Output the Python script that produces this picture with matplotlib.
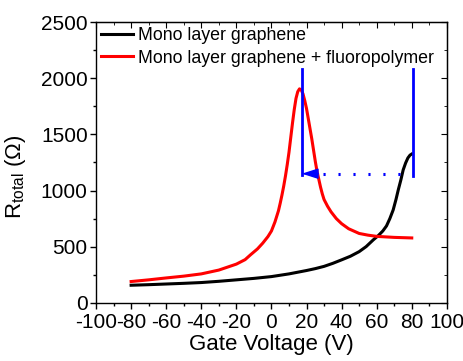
import matplotlib
matplotlib.use("Agg")
import matplotlib.pyplot as plt
from matplotlib.ticker import MultipleLocator

plt.rcParams['font.family'] = ['Liberation Sans', 'DejaVu Sans']
plt.rcParams['axes.unicode_minus'] = False

# Mono layer graphene
v_black = [-80, -70, -60, -50, -40, -30, -20, -10, 0, 10, 20, 25, 30, 35, 40, 45, 50, 54,
           58, 61, 63.5, 65.6, 67.5, 69.4, 71, 72.3, 73.8, 75.1, 76.5, 77.8, 79, 80]
r_black = [157, 162, 168, 174, 181, 192, 205, 218, 234, 258, 288, 305, 325, 352, 383, 415, 456, 501,
           560, 600, 640, 685, 750, 827, 920, 1005, 1095, 1183, 1245, 1290, 1315, 1325]

# Mono layer graphene + fluoropolymer
v_red = [-80, -70, -60, -50, -40, -30, -20, -15, -12, -8, -5, -2, 0, 2, 4, 5, 6, 7, 8, 9, 10,
         11, 12, 13, 14, 15, 16, 17, 18, 19, 20, 21, 22, 23, 24, 25, 26, 27, 28, 29, 30, 32,
         34, 37, 40, 44, 50, 55, 60, 70, 80]
r_red = [190, 205, 222, 238, 258, 292, 345, 385, 427, 480, 531, 590, 640, 720, 820, 887, 960,
         1040, 1130, 1230, 1340, 1470, 1600, 1720, 1820, 1880, 1905, 1895, 1860, 1800, 1730,
         1640, 1550, 1460, 1360, 1260, 1170, 1100, 1030, 970, 920, 860, 810, 750, 705, 660,
         618, 603, 592, 583, 578]

# Dirac point shift markers
v_dirac = [17.3, 80.7]
r_marker_top = 2085
r_shift = 1150
v_dots_start = 29.3

fig = plt.figure(figsize=(4.64, 3.61), dpi=100)
ax = fig.add_axes([0.207, 0.161, 0.756, 0.778])

ax.plot(v_black, r_black, color='black', lw=2.2, label='Mono layer graphene')
ax.plot(v_red, r_red, color='red', lw=2.2, label='Mono layer graphene + fluoropolymer')

ax.plot([v_dirac[0], v_dirac[0]], [r_shift - 15, r_marker_top], color='blue', lw=2.0)
ax.plot([v_dirac[1], v_dirac[1]], [r_shift - 25, r_marker_top], color='blue', lw=2.0)
ax.plot([v_dots_start, v_dirac[1]], [r_shift, r_shift], color='blue', lw=2.2,
        linestyle=(0, (0.7, 4.2)))
ax.annotate('', xy=(v_dirac[0], r_shift), xytext=(v_dirac[0] + 9.5, r_shift),
            arrowprops=dict(arrowstyle='-|>,head_length=1.0,head_width=0.32',
                            color='blue', lw=1, shrinkA=0, shrinkB=0))

ax.set_xlim(-100, 100)
ax.set_ylim(0, 2500)
ax.xaxis.set_major_locator(MultipleLocator(20))
ax.xaxis.set_minor_locator(MultipleLocator(10))
ax.yaxis.set_major_locator(MultipleLocator(500))
ax.yaxis.set_minor_locator(MultipleLocator(250))
ax.tick_params(axis='both', which='both', direction='out', labelsize=15, width=1, pad=2)
ax.tick_params(axis='x', which='major', pad=3.5)
ax.tick_params(which='major', length=4)
ax.tick_params(which='minor', length=2.5)
for s in ax.spines.values():
    s.set_linewidth(1.0)

# inward ticks on top/right
axt = ax.secondary_xaxis('top')
axt.xaxis.set_major_locator(MultipleLocator(20))
axt.xaxis.set_minor_locator(MultipleLocator(10))
axt.tick_params(which='both', direction='in', labeltop=False)
axt.tick_params(which='major', length=4)
axt.tick_params(which='minor', length=2.5)
axr = ax.secondary_yaxis('right')
axr.yaxis.set_major_locator(MultipleLocator(500))
axr.yaxis.set_minor_locator(MultipleLocator(250))
axr.tick_params(which='both', direction='in', labelright=False)
axr.tick_params(which='major', length=4)
axr.tick_params(which='minor', length=2.5)

ax.set_xlabel('Gate Voltage (V)', fontsize=16, labelpad=1)
ax.set_ylabel('R$_{\\mathregular{total}}$ (Ω)', fontsize=16, labelpad=2)
ax.yaxis.set_label_coords(-0.195, 0.45)

ax.legend(loc='upper left', frameon=False, fontsize=12.8,
          handlelength=1.8, handletextpad=0.25, labelspacing=0.3,
          borderpad=0.1, borderaxespad=0.2)

fig.savefig('out.png', dpi=100)
